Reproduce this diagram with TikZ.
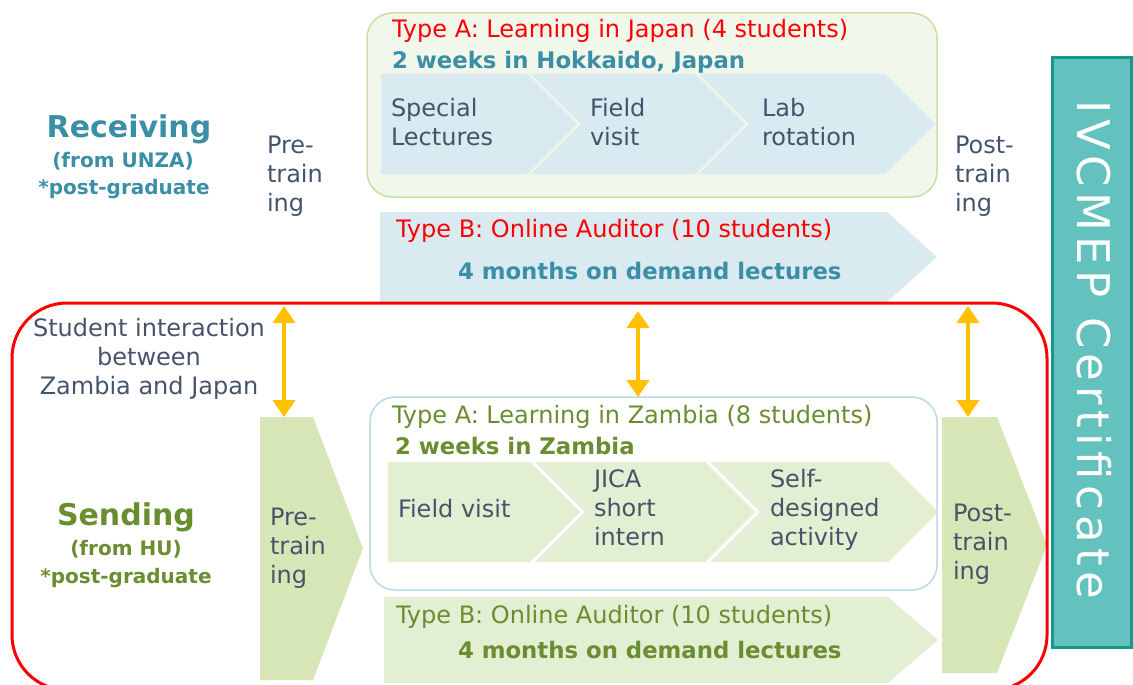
\documentclass[tikz,border=0pt]{standalone}
\usepackage{fontspec}
\setmainfont{DejaVu Sans}
\newfontfamily\certfont[LetterSpace=12]{DejaVu Sans}
\usetikzlibrary{arrows.meta,positioning}

\definecolor{slate}{HTML}{44546A}
\definecolor{jpred}{HTML}{FF0000}
\definecolor{jpteal}{HTML}{3A8FA7}
\definecolor{zmgreen}{HTML}{6A8D2F}
\definecolor{boxgreen}{HTML}{F1F7EA}
\definecolor{boxgreenline}{HTML}{C8E0A6}
\definecolor{chevblue}{HTML}{D9EAF0}
\definecolor{chevgreen}{HTML}{E3EFD2}
\definecolor{traingreen}{HTML}{D7E6B7}
\definecolor{boxblueline}{HTML}{B9DAE7}
\definecolor{certfill}{HTML}{63C2BE}
\definecolor{certline}{HTML}{15998F}
\definecolor{linkyellow}{HTML}{FFC000}

\newcommand\mainfs{\fontsize{24}{29}\selectfont}
\newcommand\boldfs{\fontsize{22.8}{29}\selectfont\bfseries}
\newcommand\headfs{\fontsize{30}{36}\selectfont}
\newcommand\subfs{\fontsize{20}{27}\selectfont}

% chevron: fill, left x, right x, top y, bottom y, notch depth
\newcommand\chevron[6]{%
  \fill[#1] (#2,#4) -- (#3,#4) -- ({#3+50},{(#4+#5)/2}) -- (#3,#5) -- (#2,#5) -- ({#2+#6},{(#4+#5)/2}) -- cycle;}

\begin{document}
\begin{tikzpicture}[x=1pt,y=-1pt,
    every node/.style={inner sep=0pt,outer sep=0pt},
    steptext/.style={anchor=base west,align=left,font=\mainfs,text=slate},
    redtitle/.style={anchor=base west,font=\mainfs,text=jpred},
    greentitle/.style={anchor=base west,font=\mainfs,text=zmgreen},
    tealbold/.style={anchor=base west,font=\boldfs,text=jpteal},
    greenbold/.style={anchor=base west,font=\boldfs,text=zmgreen},
    link/.style={draw=linkyellow,line width=4pt,{Triangle[width=22pt,length=17pt]}-{Triangle[width=22pt,length=17pt]}}]
  \useasboundingbox (0,0) rectangle (1133,685);

  % receiving (from UNZA)
  \draw[boxgreenline,fill=boxgreen,line width=1.5pt,rounded corners=25pt] (367,13) rectangle (937,197);
  \node[redtitle] (jpAtitle) at (392,38) {Type A: Learning in Japan (4 students)};
  \node[tealbold] (jpAweeks) at (392,69) {2 weeks in Hokkaido, Japan};
  \chevron{chevblue}{381}{527}{74}{174}{0}
  \chevron{chevblue}{531}{695}{74}{174}{50}
  \chevron{chevblue}{699}{885}{74}{174}{50}
  \node[steptext] (jplect) at (391,145) {Special\\Lectures};
  \node[steptext] (jpfield) at (590,145) {Field\\visit};
  \node[steptext] (jplab) at (762,145) {Lab\\rotation};

  \chevron{chevblue}{380}{887}{212}{302}{0}
  \node[redtitle] (jpBtitle) at (396,237) {Type B: Online Auditor (10 students)};
  \node[tealbold] (jpBmonths) at (458,279) {4 months on demand lectures};

  \node[anchor=base,font=\headfs\bfseries,text=jpteal] (recv) at (129,137) {Receiving};
  \node[anchor=base,font=\subfs\bfseries,text=jpteal] (recvfrom) at (123,167) {(from UNZA)};
  \node[anchor=base,font=\subfs\bfseries,text=jpteal] (recvpg) at (124,194) {*post-graduate};
  \node[steptext] (jppre) at (267,211) {Pre-\\train\\ing};
  \node[steptext] (jppost) at (955,211) {Post-\\train\\ing};

  % sending (from HU)
  \chevron{traingreen}{260}{313}{417}{680}{0}
  \chevron{traingreen}{942}{997}{417}{673}{0}
  \draw[boxblueline,fill=white,line width=1.5pt,rounded corners=25pt] (370,397) rectangle (937,590);
  \node[greentitle] (zmAtitle) at (392,423) {Type A: Learning in Zambia (8 students)};
  \node[greenbold] (zmAweeks) at (395,454) {2 weeks in Zambia};
  \chevron{chevgreen}{388}{530}{462}{562}{0}
  \chevron{chevgreen}{535}{705}{462}{562}{50}
  \chevron{chevgreen}{710}{888}{462}{562}{50}
  \node[steptext] (zmfield) at (398,517) {Field visit};
  \node[steptext] (zmjica) at (594,545) {JICA\\short\\intern};
  \node[steptext] (zmself) at (770,545) {Self-\\designed\\activity};

  \chevron{chevgreen}{384}{888}{597}{683}{0}
  \node[greentitle] (zmBtitle) at (396,623) {Type B: Online Auditor (10 students)};
  \node[greenbold] (zmBmonths) at (458,658) {4 months on demand lectures};

  \node[anchor=base,font=\headfs\bfseries,text=zmgreen] (send) at (126,525) {Sending};
  \node[anchor=base,font=\subfs\bfseries,text=zmgreen] (sendfrom) at (126,555) {(from HU)};
  \node[anchor=base,font=\subfs\bfseries,text=zmgreen] (sendpg) at (126,583) {*post-graduate};
  \node[steptext] (zmpre) at (270,583) {Pre-\\train\\ing};
  \node[steptext] (zmpost) at (953,579) {Post-\\train\\ing};

  \node[anchor=base,align=center,font=\mainfs,text=slate] (inter) at (149,394) {Student interaction\\between\\Zambia and Japan};

  \draw[jpred,line width=3pt,rounded corners=55pt] (12,303) rectangle (1047,690);

  % student interaction links
  \coordinate (preup) at (284,306);
  \coordinate (prelow) at (284,417);
  \coordinate (midup) at (638,311);
  \coordinate (midlow) at (638,397);
  \coordinate (postup) at (968,306);
  \coordinate (postlow) at (968,417);
  \draw[link] (preup) -- (prelow);
  \draw[link] (midup) -- (midlow);
  \draw[link] (postup) -- (postlow);

  % certificate
  \draw[certline,fill=certfill,line width=3pt] (1052,58) rectangle (1131,647);
  \node[rotate=-90,font=\certfont\fontsize{45}{48}\selectfont,text=white] (cert) at (1094,350) {IVCMEP Certificate};
\end{tikzpicture}
\end{document}
